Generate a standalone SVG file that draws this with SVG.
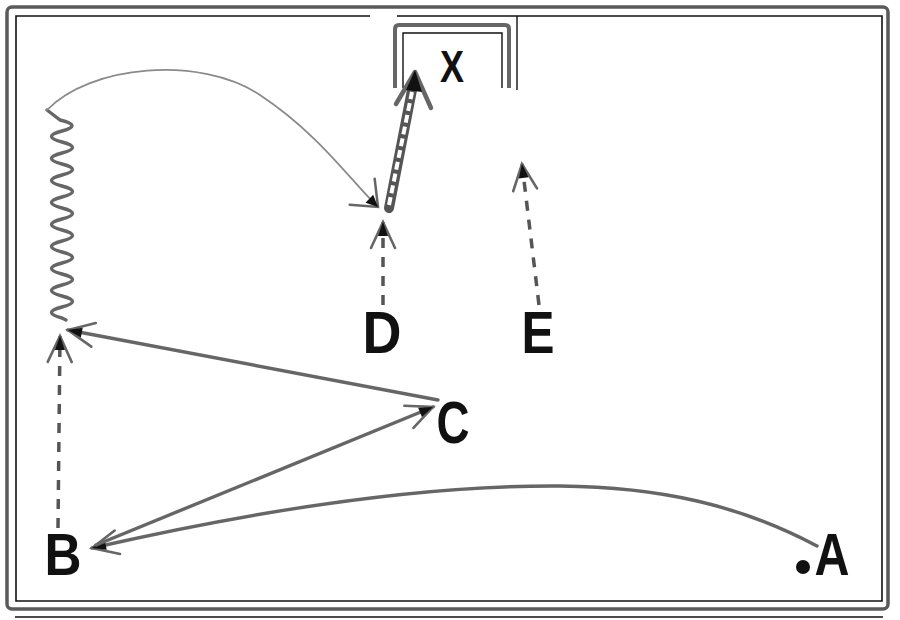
<svg xmlns="http://www.w3.org/2000/svg" width="900" height="620" viewBox="0 0 900 620">
  <style>
    .lbl { font-family: "Liberation Sans", Arial, sans-serif; font-weight: bold; fill: #111; text-anchor: middle; }
    .solid { fill: none; stroke: #666; stroke-width: 3.4; stroke-linecap: round; stroke-linejoin: round; }
    .thin { fill: none; stroke: #8a8a8a; stroke-width: 1.8; stroke-linecap: round; }
    .dash { fill: none; stroke: #555; stroke-width: 3.5; stroke-dasharray: 10 9; }
    .zig { fill: none; stroke: #666; stroke-width: 3.4; stroke-linejoin: round; stroke-linecap: round; }
  </style>
  <defs>
    <marker id="head" markerUnits="userSpaceOnUse" markerWidth="34" markerHeight="34" viewBox="0 0 34 34" refX="32" refY="17" orient="auto" overflow="visible">
      <path d="M6,5 L32,17 L6,29" fill="none" stroke="#666" stroke-width="2.6" stroke-dasharray="none" stroke-linecap="round"/>
      <path d="M18,12 L32,17 L18,22 Z" fill="#111"/>
    </marker>
    <marker id="wide" markerUnits="userSpaceOnUse" markerWidth="34" markerHeight="40" viewBox="0 0 34 40" refX="32" refY="20" orient="auto" overflow="visible">
      <path d="M10,2 L32,20 L10,38" fill="none" stroke="#666" stroke-width="2.5" stroke-dasharray="none" stroke-linecap="round"/>
      <path d="M20,14.5 L32,20 L20,25.5 Z" fill="#111"/>
    </marker>
  </defs>

  <g id="frame">
    <rect x="7" y="7" width="881" height="602" rx="5" fill="none" stroke="#5a5a5a" stroke-width="3.5"/>
    <path d="M397,16 H882 V601 H16 V16 H370" fill="none" stroke="#111" stroke-width="1.6"/>
    <line x1="15" y1="617" x2="883" y2="617" stroke="#111" stroke-width="1.6"/>
  </g>

  <g id="goal">
    <path d="M395,88 V29 Q395,25 399,25 H505 Q509,25 509,29 V88" fill="none" stroke="#666" stroke-width="4"/>
    <path d="M403,88 V33 H502 V88" fill="none" stroke="#111" stroke-width="1.4"/>
    <line x1="517" y1="16" x2="517" y2="90" stroke="#111" stroke-width="1.4"/>
  </g>

  <g id="connectors">
    <path id="pass-A-B" class="solid" d="M817,546 C740,505 660,487 560,486 C420,485 250,512 92,548" marker-end="url(#head)"/>
    <path id="pass-B-C" class="solid" d="M96,545 L433,407" marker-end="url(#head)"/>
    <path id="pass-C-B" class="solid" d="M438,400 L68,330" marker-end="url(#head)"/>
    <path id="cut-B" class="dash" d="M58,528 L60,336" marker-end="url(#head)"/>
    <path id="dribble-B" class="zig" d="M66,320 L62,318 Q41,312.5 62,307 T62,296 T62,285 T62,274 T62,263 T62,252 T62,241 T62,230 T62,219 T62,208 T62,197 T62,186 T62,175 T62,164 T62,153 T62,142 T62,131 T60,120 L47,110"/>
    <path id="pass-B-D" class="thin" d="M47,110 C90,65 200,55 260,95 S350,180 378,207" marker-end="url(#wide)"/>
    <path id="cut-D" class="dash" d="M383,305 L383,222" marker-end="url(#head)"/>
    <path id="cut-E" class="dash" d="M539,305 L522,164" marker-end="url(#head)"/>
    <g id="drive-D-X">
      <path d="M389,208 L412,90" fill="none" stroke="#555" stroke-width="10" stroke-linecap="round"/>
      <path d="M389,205 L412,92" fill="none" stroke="#fff" stroke-width="4" stroke-dasharray="8 4"/>
      <path d="M396,104 L415,72 L431,108" fill="none" stroke="#666" stroke-width="4.5" stroke-linecap="round" stroke-linejoin="round"/>
      <path d="M406,90 L415,70 L422,92 Z" fill="#111"/>
    </g>
  </g>

  <g id="node-A">
    <circle cx="803" cy="567" r="7" fill="#111"/>
    <text class="lbl" x="832" y="575" font-size="60" textLength="35" lengthAdjust="spacingAndGlyphs">A</text>
  </g>
  <g id="node-B">
    <text class="lbl" x="63" y="575" font-size="60" textLength="37" lengthAdjust="spacingAndGlyphs">B</text>
  </g>
  <g id="node-C">
    <text class="lbl" x="453" y="443" font-size="60" textLength="33" lengthAdjust="spacingAndGlyphs">C</text>
  </g>
  <g id="node-D">
    <text class="lbl" x="382" y="353" font-size="60" textLength="39" lengthAdjust="spacingAndGlyphs">D</text>
  </g>
  <g id="node-E">
    <text class="lbl" x="538" y="353" font-size="60" textLength="33" lengthAdjust="spacingAndGlyphs">E</text>
  </g>
  <g id="node-X">
    <text class="lbl" x="452" y="82" font-size="45" textLength="24" lengthAdjust="spacingAndGlyphs">X</text>
  </g>
</svg>
